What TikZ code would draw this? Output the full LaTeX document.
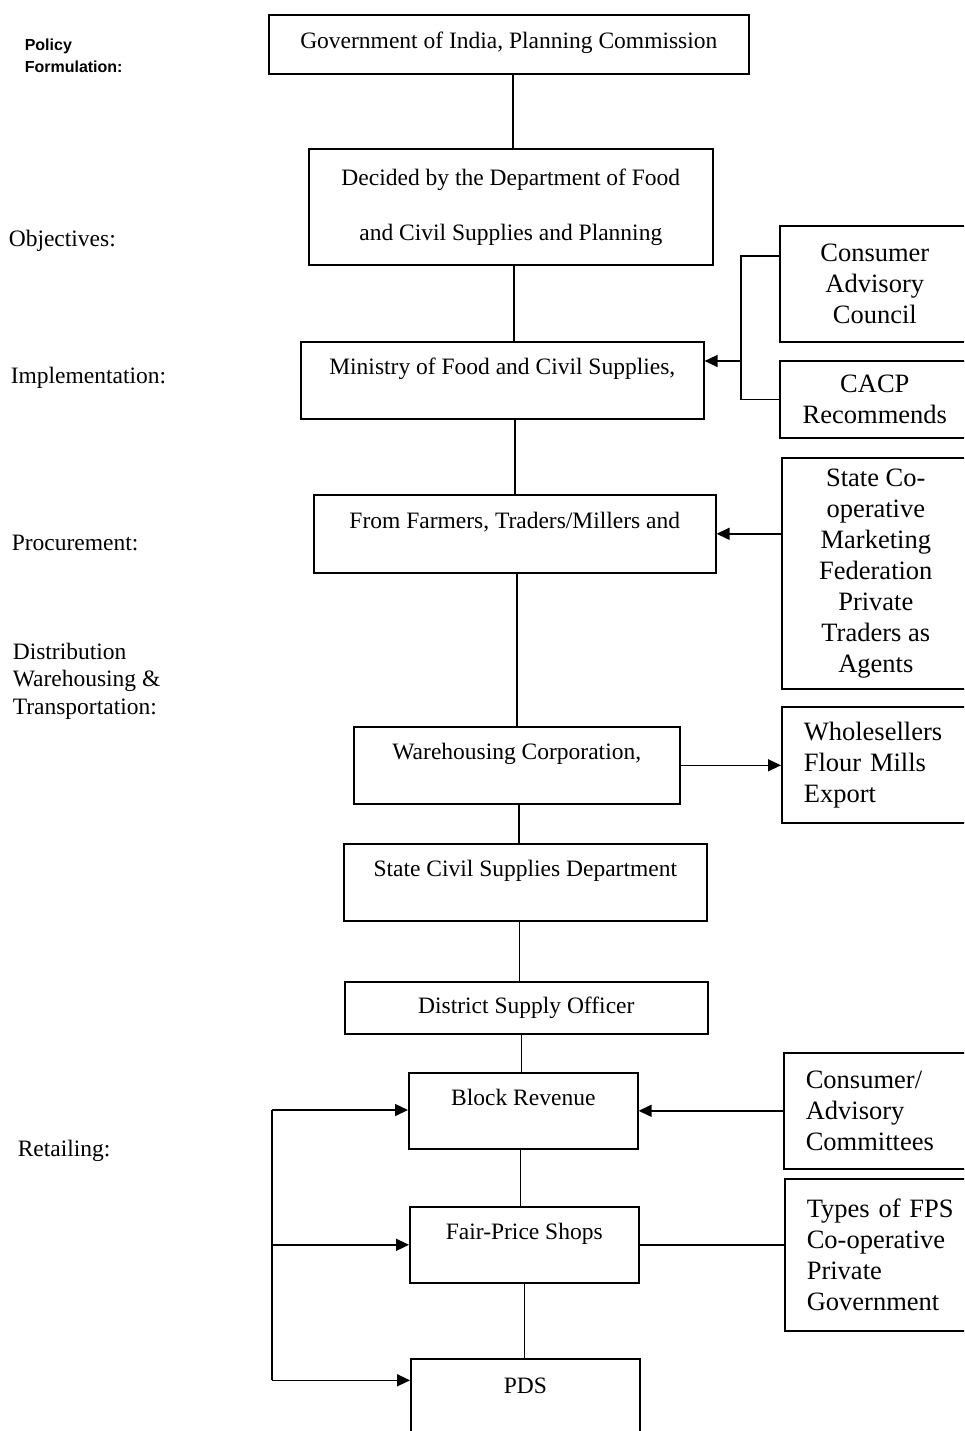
\documentclass[tikz,border=0pt]{standalone}
\usepackage{fontspec}
\setmainfont{Liberation Serif}
\newfontfamily\labelsans{Liberation Sans}
\usetikzlibrary{arrows.meta}

\begin{document}
\begin{tikzpicture}[x=1pt, y=-1pt, line width=1.6pt, >={Triangle[length=13pt,width=12pt]},
  box/.style={draw, inner sep=0pt, anchor=north west, font=\fontsize{23.5}{28}\selectfont},
  side/.style={draw, inner sep=0pt, anchor=north west, align=center, minimum width=190pt, font=\fontsize{26.5}{31}\selectfont},
  sidelist/.style={draw, inner xsep=22pt, inner ysep=0pt, anchor=north west, align=left, text width=160pt, font=\fontsize{26.5}{31}\selectfont},
  stage/.style={anchor=west, inner sep=0pt, align=left, font=\fontsize{23.5}{27.5}\selectfont}]
\useasboundingbox (0,0) rectangle (964,1431);
\clip (0,0) rectangle (964,1431);
% stages on the left
\node[stage, font=\labelsans\bfseries\fontsize{16}{22}\selectfont] (policy) at (24,56) {Policy\\Formulation:};
\node[stage] (objectives) at (8,241) {Objectives:};
\node[stage] (implement) at (10,378) {Implementation:};
\node[stage] (procure) at (11,543) {Procurement:};
\node[stage] (distrib) at (12,681) {Distribution\\Warehousing \&\\Transportation:};
\node[stage] (retail) at (17,1151) {Retailing:};
% main chain
\node[box, minimum width=480pt, text height=34pt, text depth=25pt] (gov) at (268,14) {Government of India, Planning Commission};
\node[box, minimum width=404pt, minimum height=116pt, align=center, font=\fontsize{23.5}{55}\selectfont] (decided) at (308,148) {Decided by the Department of Food\\and Civil Supplies and Planning};
\node[box, minimum width=403pt, text height=33pt, text depth=44pt] (ministry) at (300,341) {Ministry of Food and Civil Supplies,};
\node[box, minimum width=402pt, text height=34pt, text depth=44pt] (farmers) at (313,494) {From Farmers, Traders/Millers and};
\node[box, minimum width=326pt, text height=33pt, text depth=44pt] (warehousing) at (353,726) {Warehousing Corporation,};
\node[box, minimum width=363pt, text height=33pt, text depth=44pt] (statecs) at (343,843) {State Civil Supplies Department};
\node[box, minimum width=363pt, text height=32pt, text depth=20pt] (district) at (344,981) {District Supply Officer};
\node[box, minimum width=229pt, text height=33pt, text depth=43pt] (block) at (408,1072) {Block Revenue};
\node[box, minimum width=229pt, text height=33pt, text depth=43pt] (fair) at (409,1206) {Fair-Price Shops};
\node[box, minimum width=229pt, text height=35pt, text depth=50pt] (pds) at (410,1358) {PDS};
% boxes on the right
\node[side, minimum height=116pt] (cac) at (779,225) {Consumer\\Advisory\\Council};
\node[side, minimum height=77pt] (cacp) at (779,360) {CACP\\Recommends};
\node[side, minimum width=188pt, minimum height=231pt] (coop) at (781,457) {State Co-\\operative\\Marketing\\Federation\\Private\\Traders as\\Agents};
\node[sidelist, minimum height=116pt] (wholesale) at (781,706) {Wholesellers\\Flour Mills\\Export};
\node[sidelist, minimum height=116pt] (committee) at (783,1052) {Consumer/\\Advisory\\Committees};
\node[sidelist, minimum height=152pt] (fpstype) at (784,1178) {Types of FPS\\Co-operative\\Private\\Government};
\coordinate (brk) at (741,361);
\coordinate (loop) at (272,1110);
\coordinate (pdsin) at ([yshift=21pt]pds.west);
% links
\draw ([xshift=4pt]gov.south) -- ([xshift=4pt]gov.south |- decided.north);
\draw ([xshift=3pt]decided.south) -- ([xshift=3pt]decided.south |- ministry.north);
\draw (farmers.north |- ministry.south) -- (farmers.north);
\draw (warehousing.north |- farmers.south) -- (warehousing.north);
\draw ([xshift=2pt]warehousing.south) -- ([xshift=2pt]warehousing.south |- statecs.north);
\draw ([xshift=-6pt]statecs.south) -- ([xshift=-6pt]statecs.south |- district.north);
\draw ([xshift=-5pt]district.south) -- ([xshift=-5pt]district.south |- block.north);
\draw ([xshift=-3pt]block.south) -- ([xshift=-3pt]block.south |- fair.north);
\draw (fair.south) -- (fair.south |- pds.north);
\draw ([yshift=28pt]cac.west) -| (brk |- cacp.west) -- (cacp.west);
\draw[->] (brk) -- (brk -| ministry.east);
\draw[->] (coop.west |- farmers.east) -- (farmers.east);
\draw[->] (warehousing.east) -- (warehousing.east -| wholesale.west);
\draw[->] (committee.west |- block.east) -- (block.east);
\draw (fair.east) -- (fair.east -| fpstype.west);
\draw (loop) -- (loop |- pdsin);
\draw[->] (loop) -- (loop -| block.west);
\draw[->] (loop |- fair.west) -- (fair.west);
\draw[->] (loop |- pdsin) -- (pdsin);
\end{tikzpicture}
\end{document}
